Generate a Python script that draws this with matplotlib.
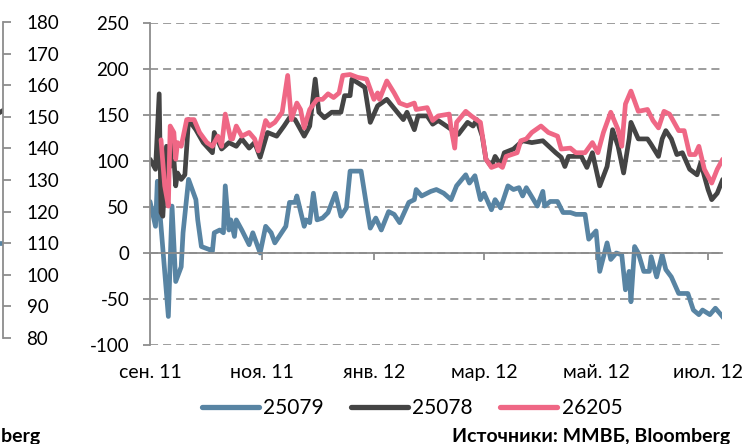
import matplotlib
matplotlib.use('Agg')
import matplotlib.pyplot as plt
import matplotlib.dates as mdates
import pandas as pd

plt.rcParams['font.family'] = ['Lato', 'DejaVu Sans']
plt.rcParams['axes.unicode_minus'] = False
plt.rcParams['lines.scale_dashes'] = False

# 25079
dates_25079 = ['2011-09-01', '2011-09-04', '2011-09-05', '2011-09-11', '2011-09-13', '2011-09-15',
               '2011-09-18', '2011-09-19', '2011-09-22', '2011-09-26', '2011-09-27', '2011-09-29',
               '2011-10-03', '2011-10-05', '2011-10-06', '2011-10-09', '2011-10-11', '2011-10-12',
               '2011-10-14', '2011-10-15', '2011-10-17', '2011-10-18', '2011-10-21', '2011-10-25',
               '2011-10-27', '2011-10-31', '2011-11-03', '2011-11-06', '2011-11-08', '2011-11-11',
               '2011-11-14', '2011-11-16', '2011-11-19', '2011-11-20', '2011-11-24', '2011-11-25',
               '2011-11-27', '2011-11-29', '2011-12-01', '2011-12-04', '2011-12-07', '2011-12-11',
               '2011-12-14', '2011-12-17', '2011-12-19', '2011-12-25', '2011-12-28', '2011-12-30',
               '2012-01-02', '2012-01-05', '2012-01-09', '2012-01-12', '2012-01-15', '2012-01-20',
               '2012-01-23', '2012-01-24', '2012-01-27', '2012-02-01', '2012-02-04', '2012-02-08',
               '2012-02-12', '2012-02-15', '2012-02-20', '2012-02-22', '2012-02-25', '2012-02-28',
               '2012-03-01', '2012-03-05', '2012-03-07', '2012-03-10', '2012-03-14', '2012-03-17',
               '2012-03-20', '2012-03-22', '2012-03-24', '2012-03-30', '2012-04-02', '2012-04-03',
               '2012-04-06', '2012-04-10', '2012-04-13', '2012-04-17', '2012-04-20', '2012-04-25',
               '2012-04-27', '2012-05-01', '2012-05-03', '2012-05-07', '2012-05-09', '2012-05-12',
               '2012-05-15', '2012-05-17', '2012-05-19', '2012-05-20', '2012-05-22', '2012-05-24',
               '2012-05-27', '2012-05-30', '2012-05-31', '2012-06-03', '2012-06-06', '2012-06-08',
               '2012-06-11', '2012-06-15', '2012-06-20', '2012-06-23', '2012-06-26', '2012-06-28',
               '2012-07-02', '2012-07-05', '2012-07-08', '2012-07-10']
vals_25079 = [56, 29, 78, -69, 51, -31,
              -15, 22, 80, 58, 36, 7,
              4, 2, 22, 25, 22, 73,
              25, 36, 18, 36, 25, 9,
              22, 0, 29, 22, 11, 20,
              29, 55, 55, 62, 29, 36,
              33, 65, 36, 38, 44, 65,
              40, 49, 89, 89, 51, 27,
              38, 25, 45, 42, 33, 55,
              58, 69, 62, 67, 69, 65,
              58, 73, 85, 76, 84, 58,
              65, 47, 58, 49, 73, 69,
              71, 62, 71, 51, 67, 51,
              56, 56, 44, 44, 42, 42,
              15, 24, -20, 11, -7, 0,
              -2, -40, -20, -53, 7, 0,
              -20, -20, -4, -26, -2, -18,
              -26, -44, -44, -62, -67, -62,
              -67, -60, -67, -72]

# 25078
dates_25078 = ['2011-09-01', '2011-09-04', '2011-09-06', '2011-09-07', '2011-09-08', '2011-09-10',
               '2011-09-12', '2011-09-13', '2011-09-15', '2011-09-16', '2011-09-18', '2011-09-20',
               '2011-09-22', '2011-09-26', '2011-09-30', '2011-10-05', '2011-10-06', '2011-10-10',
               '2011-10-14', '2011-10-18', '2011-10-21', '2011-10-25', '2011-10-28', '2011-10-31',
               '2011-11-04', '2011-11-09', '2011-11-13', '2011-11-16', '2011-11-19', '2011-11-24',
               '2011-11-27', '2011-11-30', '2011-12-02', '2011-12-05', '2011-12-09', '2011-12-14',
               '2011-12-16', '2011-12-19', '2011-12-20', '2011-12-24', '2011-12-27', '2011-12-30',
               '2012-01-03', '2012-01-08', '2012-01-17', '2012-01-19', '2012-01-23', '2012-01-25',
               '2012-01-30', '2012-02-02', '2012-02-05', '2012-02-08', '2012-02-16', '2012-02-21',
               '2012-02-24', '2012-02-26', '2012-02-29', '2012-03-02', '2012-03-05', '2012-03-07',
               '2012-03-10', '2012-03-12', '2012-03-17', '2012-03-22', '2012-03-27', '2012-04-02',
               '2012-04-09', '2012-04-12', '2012-04-14', '2012-04-16', '2012-04-23', '2012-04-26',
               '2012-04-29', '2012-05-03', '2012-05-07', '2012-05-10', '2012-05-13', '2012-05-16',
               '2012-05-19', '2012-05-20', '2012-05-24', '2012-05-29', '2012-05-31', '2012-06-04',
               '2012-06-06', '2012-06-08', '2012-06-11', '2012-06-14', '2012-06-17', '2012-06-21',
               '2012-06-25', '2012-06-27', '2012-07-01', '2012-07-03', '2012-07-06', '2012-07-09']
vals_25078 = [102, 91, 173, 44, 40, 116,
              94, 131, 73, 87, 80, 85,
              145, 134, 120, 109, 131, 113,
              120, 116, 124, 114, 120, 104,
              131, 127, 138, 147, 145, 127,
              138, 189, 153, 147, 153, 153,
              171, 171, 189, 184, 180, 142,
              160, 167, 145, 153, 134, 149,
              149, 140, 144, 140, 129, 142,
              138, 145, 127, 102, 94, 105,
              96, 109, 113, 122, 120, 122,
              109, 104, 94, 105, 105, 93,
              109, 73, 94, 134, 116, 87,
              124, 142, 124, 124, 118, 105,
              124, 133, 124, 107, 109, 91,
              85, 98, 69, 58, 65, 80]

# 26205
dates_26205 = ['2011-09-07', '2011-09-09', '2011-09-11', '2011-09-12', '2011-09-14', '2011-09-15',
               '2011-09-16', '2011-09-18', '2011-09-21', '2011-09-25', '2011-09-28', '2011-10-02',
               '2011-10-05', '2011-10-08', '2011-10-10', '2011-10-12', '2011-10-15', '2011-10-16',
               '2011-10-18', '2011-10-21', '2011-10-25', '2011-10-28', '2011-10-30', '2011-11-03',
               '2011-11-05', '2011-11-08', '2011-11-12', '2011-11-15', '2011-11-17', '2011-11-20',
               '2011-11-22', '2011-11-24', '2011-11-27', '2011-12-01', '2011-12-04', '2011-12-07',
               '2011-12-10', '2011-12-13', '2011-12-15', '2011-12-19', '2011-12-23', '2011-12-28',
               '2012-01-01', '2012-01-03', '2012-01-04', '2012-01-08', '2012-01-12', '2012-01-15',
               '2012-01-19', '2012-01-23', '2012-01-24', '2012-01-30', '2012-02-02', '2012-02-05',
               '2012-02-11', '2012-02-12', '2012-02-14', '2012-02-15', '2012-02-20', '2012-02-23',
               '2012-02-28', '2012-03-02', '2012-03-05', '2012-03-09', '2012-03-11', '2012-03-13',
               '2012-03-19', '2012-03-21', '2012-03-24', '2012-03-27', '2012-04-01', '2012-04-05',
               '2012-04-10', '2012-04-12', '2012-04-17', '2012-04-20', '2012-04-25', '2012-04-29',
               '2012-05-02', '2012-05-05', '2012-05-09', '2012-05-13', '2012-05-15', '2012-05-17',
               '2012-05-20', '2012-05-24', '2012-05-29', '2012-06-01', '2012-06-04', '2012-06-07',
               '2012-06-10', '2012-06-15', '2012-06-18', '2012-06-21', '2012-06-24', '2012-06-26',
               '2012-06-29', '2012-07-03', '2012-07-06', '2012-07-09']
vals_26205 = [123, 73, 51, 138, 131, 102,
              120, 116, 145, 145, 131, 120,
              116, 127, 116, 151, 124, 124,
              138, 127, 131, 124, 111, 144,
              138, 142, 153, 193, 145, 163,
              156, 136, 156, 167, 167, 173,
              169, 174, 193, 194, 191, 189,
              167, 174, 167, 187, 174, 163,
              160, 163, 156, 158, 144, 149,
              151, 136, 114, 142, 154, 149,
              142, 102, 93, 96, 93, 105,
              109, 122, 124, 131, 138, 131,
              127, 113, 114, 109, 109, 120,
              109, 131, 153, 134, 116, 162,
              176, 154, 156, 144, 136, 154,
              151, 133, 133, 107, 107, 116,
              91, 76, 91, 102]

tick_dates = ['2011-09-01', '2011-11-01', '2012-01-01', '2012-03-01', '2012-05-01', '2012-07-01']
tick_labels = ['сен. 11', 'ноя. 11', 'янв. 12', 'мар. 12', 'май. 12', 'июл. 12']
y_ticks = [-100, -50, 0, 50, 100, 150, 200, 250]

# neighbouring chart, only its right edge is in the picture
prev_ticks = [80, 90, 100, 110, 120, 130, 140, 150, 160, 170, 180]
prev_gray = [140, 152]
prev_blue = [110, 110]

c_blue = '#5884A3'
c_gray = '#444444'
c_pink = '#EF6785'
c_axis = '#8C8C8C'

def num(d):
    return mdates.date2num(pd.to_datetime(d))

fig = plt.figure(figsize=(7.46, 4.44), dpi=100)
W, H = 746, 444

ax = fig.add_axes([150 / W, 1 - 345 / H, 572 / W, 322 / H])
for d, v, c, lab in [(dates_25079, vals_25079, c_blue, '25079'),
                     (dates_25078, vals_25078, c_gray, '25078'),
                     (dates_26205, vals_26205, c_pink, '26205')]:
    ax.plot(num(d), v, color=c, lw=3.4, label=lab, solid_joinstyle='round', solid_capstyle='round')

ax.set_xlim(num('2011-09-01'), num('2011-09-01') + 311.6)
ax.set_ylim(-100, 250)
ax.set_yticks(y_ticks)
ax.yaxis.grid(True, color=c_axis, lw=1.2, linestyle=(0, (5.8, 3.6)))
ax.set_axisbelow(True)
for s in ['top', 'right']:
    ax.spines[s].set_visible(False)
ax.spines['left'].set_color(c_axis)
ax.spines['left'].set_linewidth(1.3)
ax.spines['bottom'].set_position(('data', 0))
ax.spines['bottom'].set_color(c_axis)
ax.spines['bottom'].set_linewidth(1.3)
ax.set_xticks(num(tick_dates))
ax.tick_params(axis='x', length=5, width=1.3, color=c_axis, labelbottom=False)
ax.tick_params(axis='y', length=5, width=1.3, color=c_axis, pad=10, labelsize=13.5)

sec = ax.secondary_xaxis(0)
sec.set_xticks(num(tick_dates), labels=tick_labels)
sec.tick_params(length=0, pad=14, labelsize=14)
sec.spines['bottom'].set_visible(False)

ax.legend(loc='center', bbox_to_anchor=(412 / W, 1 - 408 / H), bbox_transform=fig.transFigure,
          ncol=3, frameon=False, fontsize=15, handlelength=2.75, handletextpad=0.2,
          columnspacing=1.3, borderpad=0)
for ln in ax.get_legend().get_lines():
    ln.set_linewidth(3.8)

fig.text(730 / W, 1 - 436 / H, 'Источники: ММВБ, Bloomberg', ha='right', va='center',
         fontsize=14, fontweight='bold')
fig.text(40 / W, 1 - 436 / H, 'Источники: ММВБ, Bloomberg', ha='right', va='center',
         fontsize=14, fontweight='bold')

ax0 = fig.add_axes([-60 / W, 1 - 338 / H, 63 / W, 316 / H])
ax0.plot([0, 1], prev_gray, color=c_gray, lw=3.4)
ax0.plot([0, 1], prev_blue, color=c_blue, lw=3.4)
ax0.set_xlim(0, 1)
ax0.set_ylim(80, 180)
ax0.set_yticks(prev_ticks)
ax0.set_xticks([])
for s in ['top', 'left', 'bottom']:
    ax0.spines[s].set_visible(False)
ax0.spines['right'].set_color(c_axis)
ax0.spines['right'].set_linewidth(1.3)
ax0.yaxis.tick_right()
ax0.tick_params(axis='y', length=6, width=1.3, color=c_axis, pad=11, labelsize=13.5)

fig.savefig('out.png', dpi=100)
